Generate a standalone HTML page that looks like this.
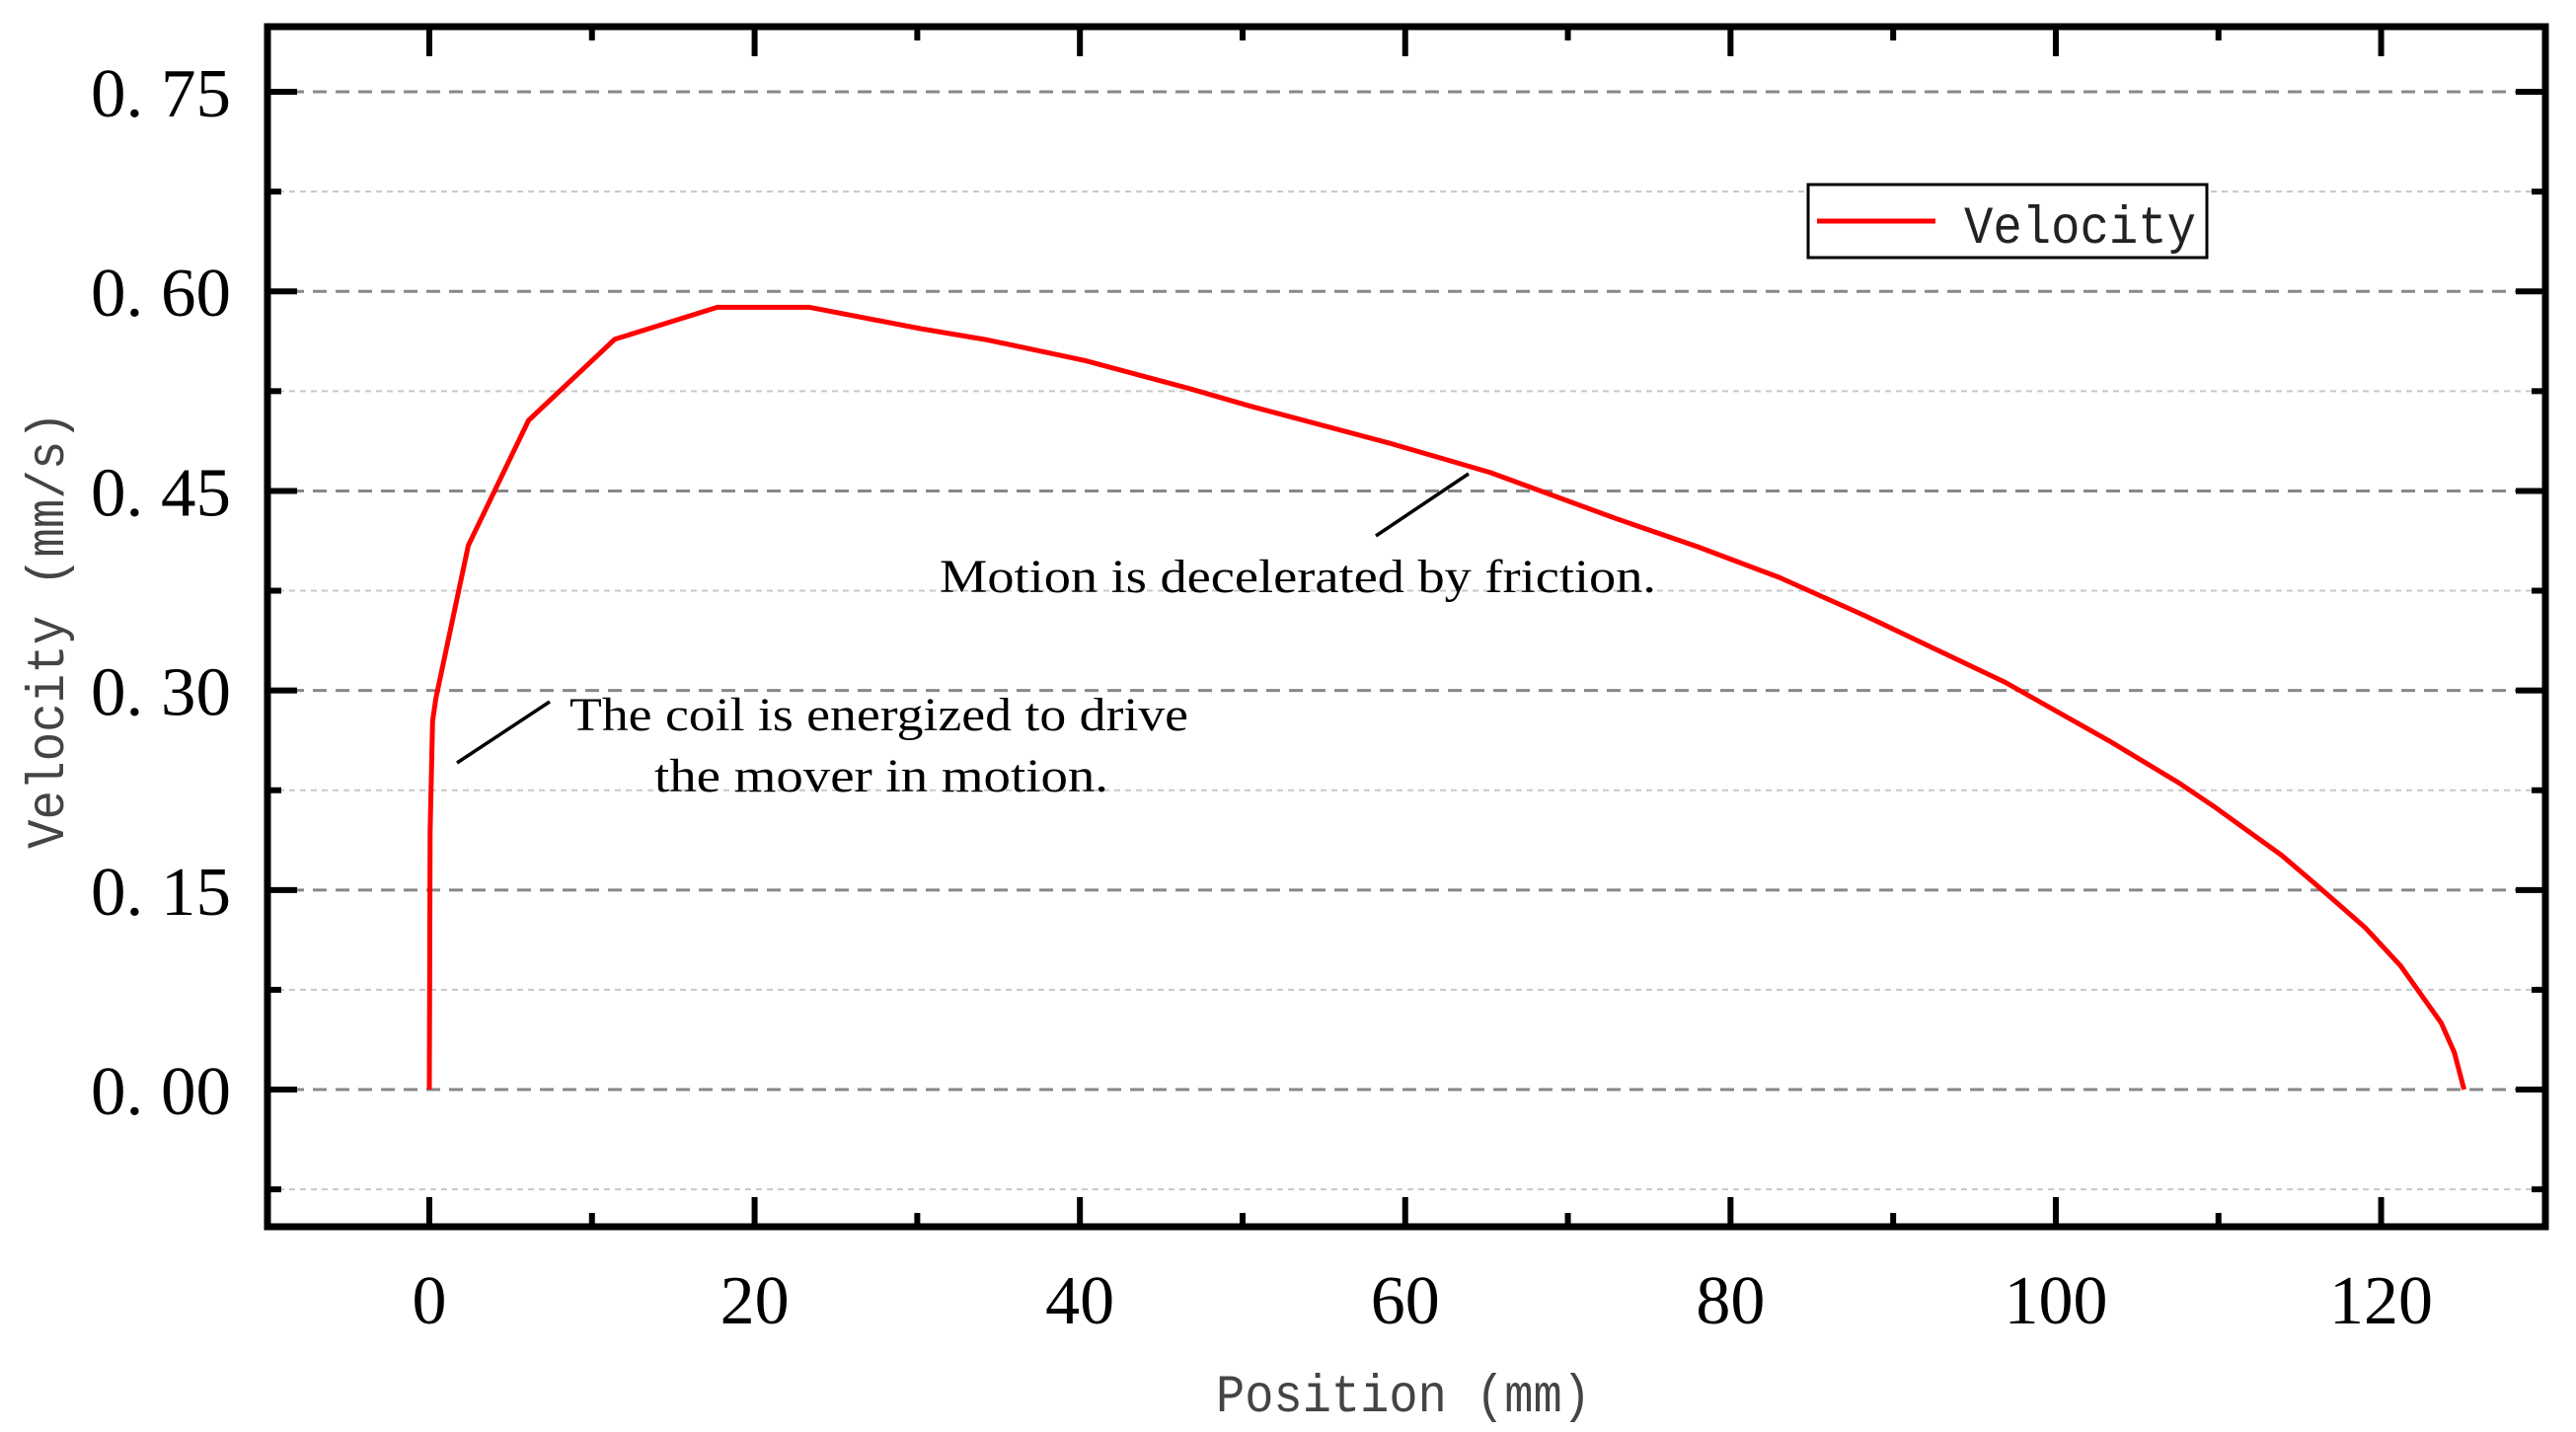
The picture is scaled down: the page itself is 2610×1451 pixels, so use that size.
<!DOCTYPE html>
<html><head><meta charset="utf-8"><style>
html,body{margin:0;padding:0;background:#fff;}
svg{display:block;}
</style></head><body>
<svg id="chart" width="2610" height="1451" viewBox="0 0 2610 1451" xmlns="http://www.w3.org/2000/svg">
<g id="grid"></g>
<g id="ticks"></g>
<g id="labels"></g>
<path id="curve" fill="none" stroke="#ff0000" stroke-width="5" stroke-linejoin="round"/>
<rect x="271" y="27" width="2308" height="1216" fill="none" stroke="#000" stroke-width="7"/>
<line x1="463" y1="773" x2="557" y2="711" stroke="#000" stroke-width="3.5"/>
<line x1="1394" y1="543" x2="1488" y2="480" stroke="#000" stroke-width="3.5"/>
<text x="577" y="740" font-family="Liberation Serif, serif" font-size="48" textLength="627" lengthAdjust="spacingAndGlyphs">The coil is energized to drive</text>
<text x="663" y="802" font-family="Liberation Serif, serif" font-size="48" textLength="460" lengthAdjust="spacingAndGlyphs">the mover in motion.</text>
<text x="952" y="600" font-family="Liberation Serif, serif" font-size="48" textLength="726" lengthAdjust="spacingAndGlyphs">Motion is decelerated by friction.</text>
<g>
<rect x="1832" y="187" width="404" height="74" fill="#fff" stroke="#000" stroke-width="3"/>
<line x1="1841" y1="224" x2="1961" y2="224" stroke="#ff0000" stroke-width="5"/>
<text x="1990" y="246" font-family="Liberation Mono, monospace" font-size="54" textLength="235" lengthAdjust="spacingAndGlyphs" fill="#222">Velocity</text>
</g>
<text x="1232" y="1430" font-family="Liberation Mono, monospace" font-size="54" textLength="380" lengthAdjust="spacingAndGlyphs" fill="#444">Position (mm)</text>
<text transform="translate(64,860) rotate(-90)" x="0" y="0" font-family="Liberation Mono, monospace" font-size="54" textLength="443" lengthAdjust="spacingAndGlyphs" fill="#444">Velocity (mm/s)</text>
</svg>
<script>
const xPos = [0, 0.05, 0.2, 0.4, 2.4, 6.1, 11.4, 17.7, 23.4, 30.2, 34.3, 40.3, 46.7, 50.4, 59.0, 65.2, 73.0, 78.0, 83.0, 88.3, 96.9, 103.3, 107.5, 109.7, 113.9, 116.0, 119.0, 121.2, 123.7, 124.5, 125.1];
const velocity = [0, 0.194, 0.277, 0.294, 0.409, 0.503, 0.564, 0.588, 0.588, 0.572, 0.5635, 0.548, 0.527, 0.514, 0.486, 0.464, 0.429, 0.408, 0.385, 0.356, 0.306, 0.262, 0.231, 0.213, 0.176, 0.154, 0.122, 0.093, 0.050, 0.028, 0];
const xTicks = [0, 20, 40, 60, 80, 100, 120];
const xMinorTicks = [-10, 10, 30, 50, 70, 90, 110, 130];
const yTicks = [0, 0.15, 0.30, 0.45, 0.60, 0.75];
const yMinorTicks = [-0.075, 0.075, 0.225, 0.375, 0.525, 0.675];
const yTickLabels = ["0. 00", "0. 15", "0. 30", "0. 45", "0. 60", "0. 75"];

const L = 271, R = 2579, T = 27, B = 1243;
const xMin = -9.95, xMax = 130.1, yMin = -0.1031, yMax = 0.7990;
function sx(v){ return L + (v - xMin) / (xMax - xMin) * (R - L); }
function sy(v){ return B - (v - yMin) / (yMax - yMin) * (B - T); }
const NS = "http://www.w3.org/2000/svg";
function mk(tag, attrs, parent){
  const e = document.createElementNS(NS, tag);
  for (const k in attrs) e.setAttribute(k, attrs[k]);
  parent.appendChild(e);
  return e;
}
const grid = document.getElementById('grid');
const ticks = document.getElementById('ticks');
const labels = document.getElementById('labels');

yTicks.forEach((v, i) => {
  const y = sy(v);
  const g = mk('line', {x1: L, x2: R, y1: y, y2: y, stroke: '#888', 'stroke-width': 3, 'stroke-dasharray': '14 9'}, grid);
  
  
  const t1 = mk('line', {x1: L, x2: L + 30, y1: y, y2: y, stroke: '#000', 'stroke-width': 6}, ticks);
  
  
  const t2 = mk('line', {x1: R - 30, x2: R, y1: y, y2: y, stroke: '#000', 'stroke-width': 6}, ticks);
  
  
  const lb = mk('text', {x: 234, y: y + 25, 'text-anchor': 'end', 'font-family': 'Liberation Serif, serif', 'font-size': 70, textLength: 142, lengthAdjust: 'spacingAndGlyphs'}, labels);
  lb.textContent = yTickLabels[i];
  
  
});
yMinorTicks.forEach(v => {
  const y = sy(v);
  const g = mk('line', {x1: L, x2: R, y1: y, y2: y, stroke: '#c8c8c8', 'stroke-width': 2, 'stroke-dasharray': '6 5'}, grid);
  
  
  const t1 = mk('line', {x1: L, x2: L + 14, y1: y, y2: y, stroke: '#000', 'stroke-width': 6}, ticks);
  
  
  const t2 = mk('line', {x1: R - 14, x2: R, y1: y, y2: y, stroke: '#000', 'stroke-width': 6}, ticks);
  
  
});
xTicks.forEach(v => {
  const x = sx(v);
  const t1 = mk('line', {x1: x, x2: x, y1: B, y2: B - 30, stroke: '#000', 'stroke-width': 6}, ticks);
  
  
  const t2 = mk('line', {x1: x, x2: x, y1: T, y2: T + 30, stroke: '#000', 'stroke-width': 6}, ticks);
  
  
  const lb = mk('text', {x: x, y: 1341, 'text-anchor': 'middle', 'font-family': 'Liberation Serif, serif', 'font-size': 70}, labels);
  lb.textContent = String(v);
  
  
});
xMinorTicks.forEach(v => {
  const x = sx(v);
  if (x < L + 2 || x > R - 2) return;
  const t1 = mk('line', {x1: x, x2: x, y1: B, y2: B - 14, stroke: '#000', 'stroke-width': 6}, ticks);
  
  
  const t2 = mk('line', {x1: x, x2: x, y1: T, y2: T + 14, stroke: '#000', 'stroke-width': 6}, ticks);
  
  
});
let d = '';
xPos.forEach((v, i) => { d += (i ? 'L' : 'M') + sx(v).toFixed(1) + ',' + sy(velocity[i]).toFixed(1); });
document.getElementById('curve').setAttribute('d', d);
</script>
</body></html>
